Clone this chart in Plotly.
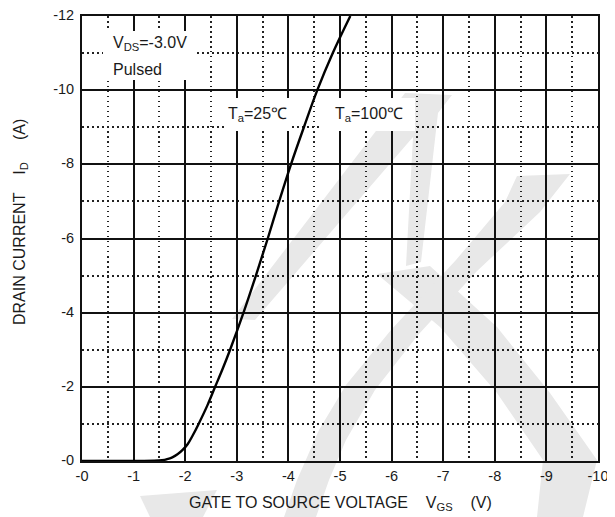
import plotly.graph_objects as go

# ---------------- data ----------------
vgs = [0, -0.5, -1.0, -1.4, -1.55, -1.65, -1.75, -1.85, -1.95, -2.05, -2.15, -2.26,
       -2.43, -2.58, -2.73, -2.87, -3.13, -3.37, -3.60, -3.82, -4.05, -4.30,
       -4.56, -4.86, -5.20]
i_d = [0, 0, 0, -0.005, -0.02, -0.05, -0.10, -0.18, -0.30, -0.46, -0.70, -1.0,
       -1.5, -2.0, -2.5, -3.0, -4.0, -5.0, -6.0, -7.0, -8.0, -9.0,
       -10.0, -11.0, -12.0]

x_ticks = [0, -1, -2, -3, -4, -5, -6, -7, -8, -9, -10]
x_tick_labels = ["-0", "-1", "-2", "-3", "-4", "-5", "-6", "-7", "-8", "-9", "-10"]
y_ticks = [0, -2, -4, -6, -8, -10, -12]
y_tick_labels = ["-0", "-2", "-4", "-6", "-8", "-10", "-12"]
x_minor = [-0.5, -1.5, -2.5, -3.5, -4.5, -5.5, -6.5, -7.5, -8.5, -9.5]
y_minor = [-1, -3, -5, -7, -9, -11]

x_title = "GATE TO SOURCE VOLTAGE\u00a0\u00a0\u00a0\u00a0V<sub>GS</sub>\u00a0\u00a0\u00a0\u00a0(V)"
y_title = "DRAIN CURRENT\u00a0\u00a0\u00a0\u00a0I<sub>D</sub>\u00a0\u00a0\u00a0\u00a0\u00a0(A)"
label_vds = "V<sub>DS</sub>=-3.0V"
label_pulsed = "Pulsed"
label_25 = "T<sub>a</sub>=25\u2103"
label_100 = "T<sub>a</sub>=100\u2103"

# ---------------- layout geometry ----------------
OFF = 8                       # the page body adds an 8px margin
W, H = 615 - OFF, 517 - OFF
# plot area in reference-picture pixels
L, R, T, B = 82, 598, 16, 461
FONT = "Liberation Sans, Arial, Helvetica, sans-serif"
TXT = "#1a1a1a"


def px(x):
    return (x - L) / (R - L)


def py(y):
    return (B - y) / (B - T)


def path(points):
    return "M " + " L ".join(f"{px(x):.4f},{py(y):.4f}" for x, y in points) + " Z"


# light grey background watermark (decorative)
wm_polys = [
    [(232, 319), (405, 93), (452, 95), (438, 113), (421, 262), (406, 266), (413, 137), (255, 320)],
    [(377, 274), (430, 266), (497, 327), (550, 393), (597, 460), (583, 517), (537, 517),
     (543, 460), (497, 393), (440, 327)],
    [(284, 517), (297, 480), (319, 430), (346, 385), (391, 330), (456, 260), (505, 202),
     (517, 176), (570, 174), (540, 212), (476, 272), (418, 335), (375, 390), (346, 440),
     (329, 480), (316, 517)],
    [(140, 496), (217, 490), (203, 517), (150, 517)],
]

shapes = []
for p in wm_polys:
    shapes.append(dict(type="path", path=path(p), xref="paper", yref="paper",
                       fillcolor="#e8e8e8", line=dict(width=0), layer="below"))

# white label boxes
for (x0, y0, x1, y1) in [(103, 31, 197, 80), (224, 98, 292, 131), (320, 98, 415, 131)]:
    shapes.append(dict(type="rect", xref="paper", yref="paper",
                       x0=px(x0), x1=px(x1), y0=py(y1), y1=py(y0),
                       fillcolor="white", line=dict(width=0), layer="above"))

fig = go.Figure()
fig.add_trace(go.Scatter(
    x=vgs, y=i_d, mode="lines",
    line=dict(color="black", width=2.4, shape="spline", smoothing=1.0),
    showlegend=False, hoverinfo="skip",
))

grid_major = "#111111"
grid_minor = "#222222"
tick_font = dict(family=FONT, size=14.5, color=TXT)
minor_common = dict(showgrid=True, gridcolor=grid_minor, gridwidth=1.5,
                    griddash="1.5px,3.5px", ticks="")

fig.update_xaxes(
    range=[0, -10], tickmode="array", tickvals=x_ticks, ticktext=x_tick_labels,
    showgrid=True, gridcolor=grid_major, gridwidth=1.5, zeroline=False,
    showline=True, mirror=True, linecolor="#111", linewidth=1.8,
    ticks="", tickfont=tick_font, automargin=False, ticklabelstandoff=1,
    ticklabeloverflow="allow",
    minor=dict(tickmode="array", tickvals=x_minor, **minor_common),
)
fig.update_yaxes(
    range=[0, -12], tickmode="array", tickvals=y_ticks, ticktext=y_tick_labels,
    showgrid=True, gridcolor=grid_major, gridwidth=1.5, zeroline=False,
    showline=True, mirror=True, linecolor="#111", linewidth=1.8,
    ticks="", tickfont=tick_font, ticklabelstandoff=3, automargin=False,
    ticklabeloverflow="allow", ticklabelshift=1,
    minor=dict(tickmode="array", tickvals=y_minor, **minor_common),
)

ann_font = dict(family=FONT, size=16, color=TXT)
title_font = dict(family=FONT, size=16, color=TXT)
annotations = [
    dict(text=label_vds, x=px(111), y=py(43), xanchor="left", yanchor="middle", font=ann_font),
    dict(text=label_pulsed, x=px(111), y=py(69), xanchor="left", yanchor="middle", font=ann_font),
    dict(text=label_25, x=px(257), y=py(114), xanchor="center", yanchor="middle", font=ann_font),
    dict(text=label_100, x=px(369), y=py(114), xanchor="center", yanchor="middle", font=ann_font),
    dict(text=x_title, x=px(340), y=py(503), xanchor="center", yanchor="middle", font=title_font),
    dict(text=y_title, x=px(20), y=py(222), xanchor="center", yanchor="middle",
         textangle=-90, font=title_font),
]
for a in annotations:
    a.update(xref="paper", yref="paper", showarrow=False)

fig.update_layout(
    width=W, height=H,
    margin=dict(l=L - OFF, r=615 - R, t=T - OFF, b=517 - B, pad=0),
    paper_bgcolor="white", plot_bgcolor="rgba(0,0,0,0)",
    shapes=shapes, annotations=annotations,
    font=dict(family=FONT, color=TXT),
    showlegend=False,
)

fig.write_html("out.html")
